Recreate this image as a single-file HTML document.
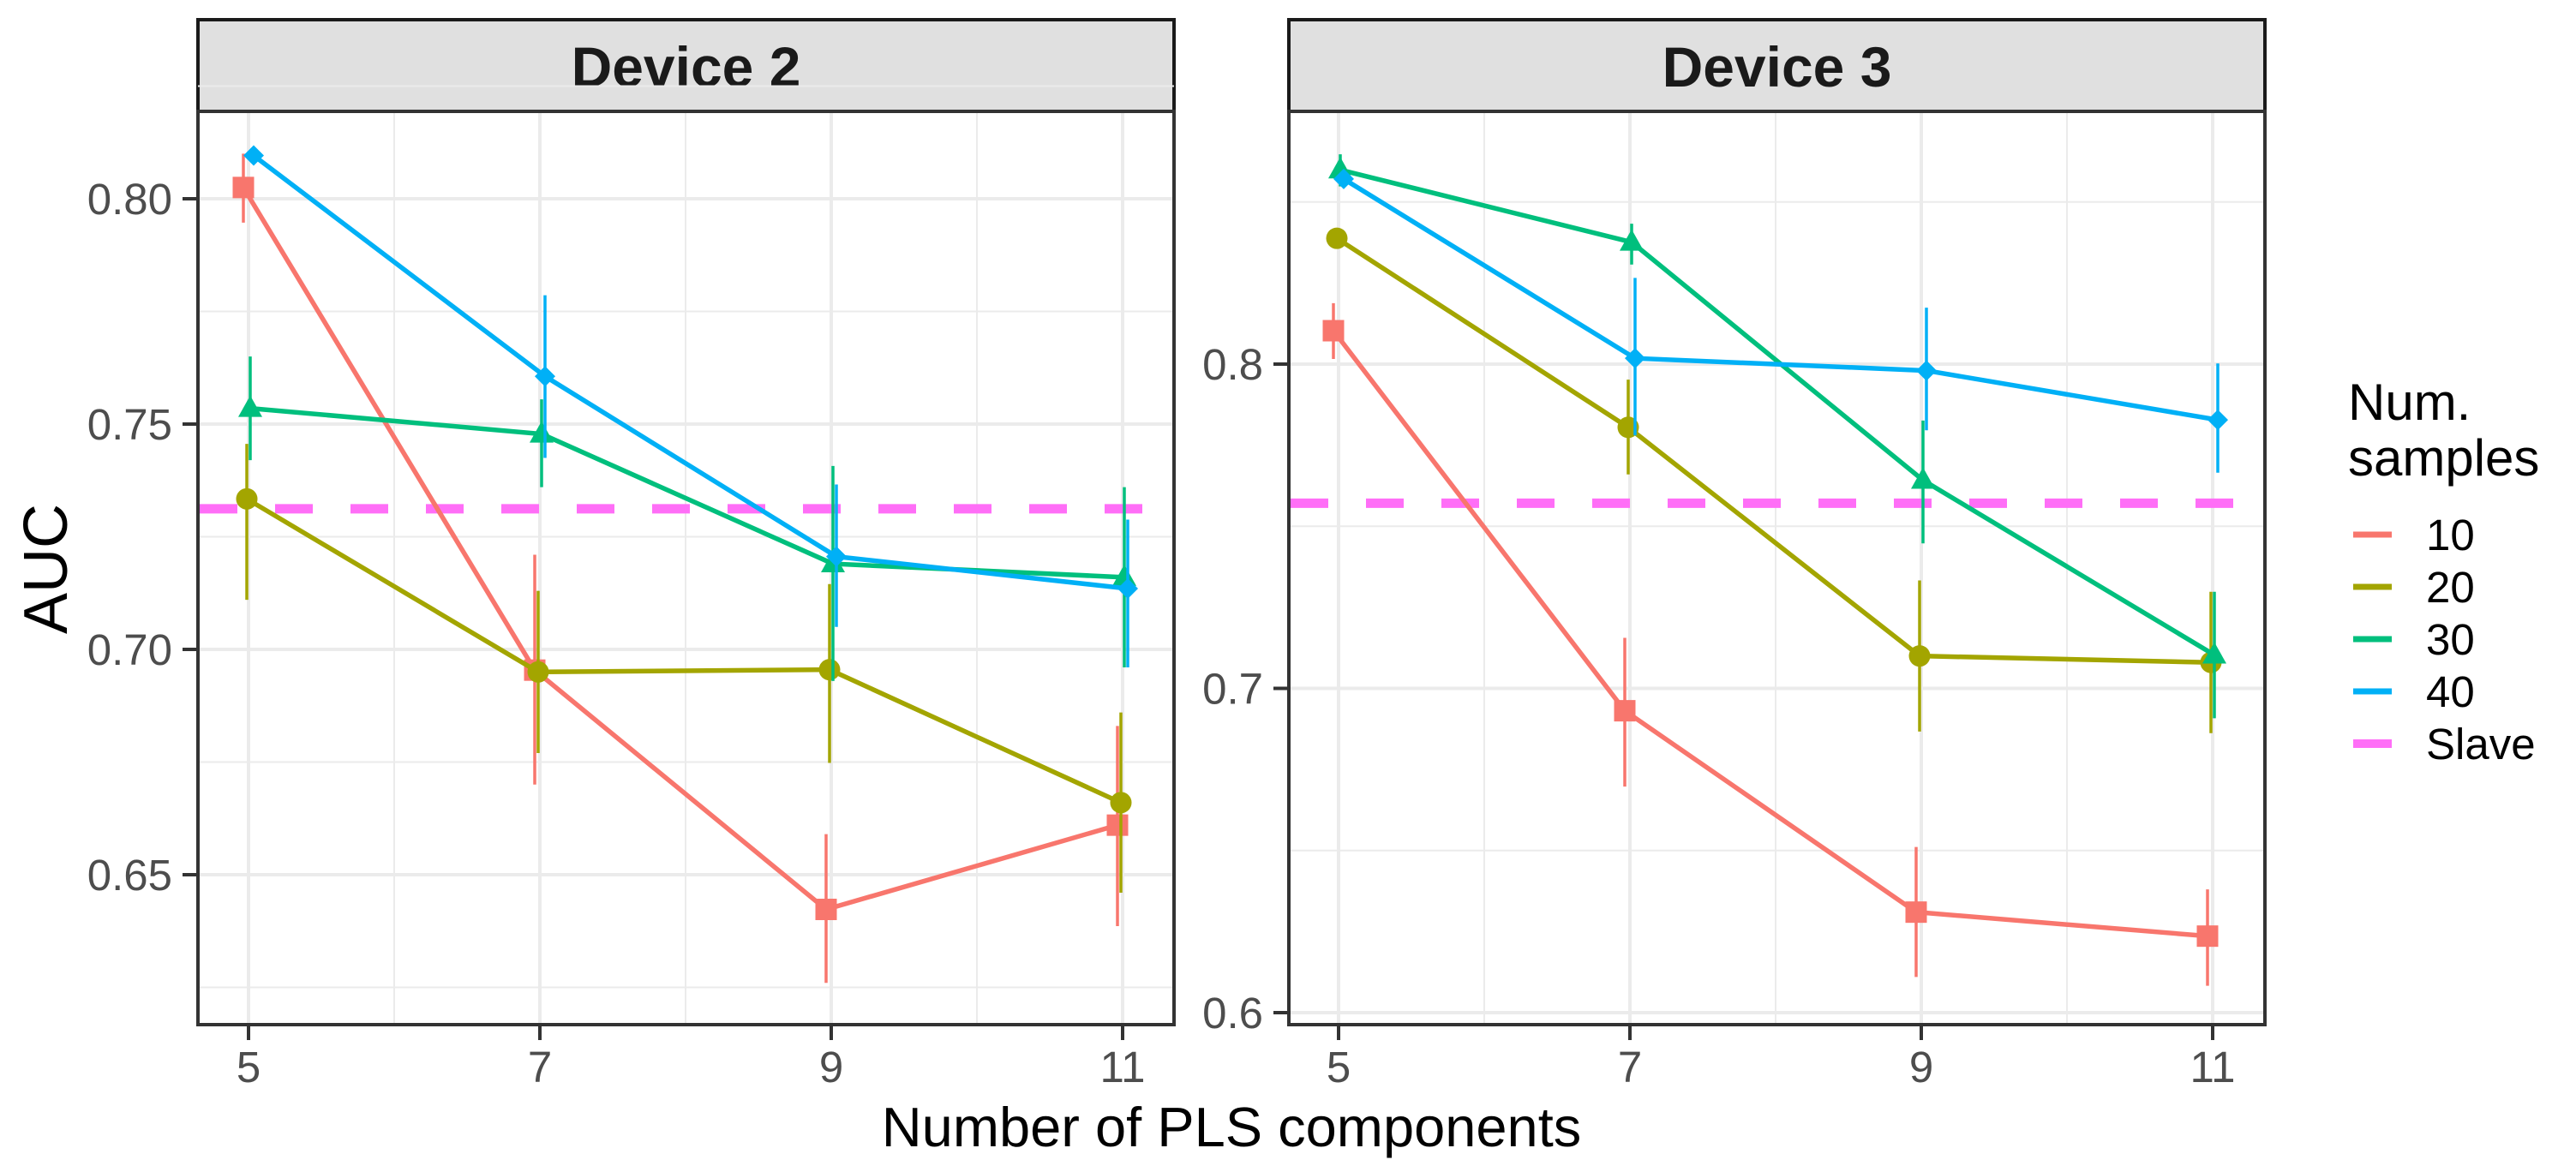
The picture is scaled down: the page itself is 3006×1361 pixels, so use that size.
<!DOCTYPE html>
<html><head><meta charset="utf-8">
<style>
html,body{margin:0;padding:0;background:#fff;}
svg{display:block;font-family:"Liberation Sans",Arial,sans-serif;}
</style></head>
<body>
<svg id="chart" width="3006" height="1361" viewBox="0 0 3006 1361" xmlns="http://www.w3.org/2000/svg">
<rect width="3006" height="1361" fill="#fff"/>
<text x="0" y="0" transform="translate(78,664) rotate(-90)" text-anchor="middle" font-size="72" fill="#000">AUC</text>
<text x="1437" y="1338" text-anchor="middle" font-size="65" fill="#000">Number of PLS components</text>
<g id="legend">
<text x="2740" y="490" font-size="60" fill="#000">Num.</text>
<text x="2740" y="555" font-size="60" fill="#000">samples</text>
</g>
</svg>
<script>
const categories = [5, 7, 9, 11];
const seriesNames = ['10', '20', '30', '40'];
// Device 2
const d2_10 = [0.8025, 0.6954, 0.6423, 0.661];
const d2_10_lo = [0.7947, 0.670, 0.626, 0.6386];
const d2_10_hi = [0.810, 0.721, 0.659, 0.683];
const d2_20 = [0.7334, 0.695, 0.6955, 0.666];
const d2_20_lo = [0.711, 0.677, 0.6748, 0.646];
const d2_20_hi = [0.7456, 0.713, 0.7145, 0.686];
const d2_30 = [0.7535, 0.7478, 0.719, 0.716];
const d2_30_lo = [0.742, 0.736, 0.693, 0.696];
const d2_30_hi = [0.765, 0.7555, 0.7407, 0.736];
const d2_40 = [0.8096, 0.7606, 0.7206, 0.7135];
const d2_40_lo = [0.8088, 0.7425, 0.705, 0.696];
const d2_40_hi = [0.8104, 0.7786, 0.7366, 0.7288];
const d2_slave = 0.7312;
const d2_ticks = [0.65, 0.70, 0.75, 0.80];
const d2_tickLabels = ['0.65', '0.70', '0.75', '0.80'];
const d2_minor = [0.625, 0.675, 0.725, 0.775, 0.825];
// Device 3
const d3_10 = [0.8103, 0.6931, 0.631, 0.6236];
const d3_10_lo = [0.8016, 0.6697, 0.611, 0.6083];
const d3_10_hi = [0.8188, 0.7156, 0.6511, 0.638];
const d3_20 = [0.8388, 0.7805, 0.710, 0.708];
const d3_20_lo = [0.8380, 0.766, 0.6867, 0.6862];
const d3_20_hi = [0.8396, 0.7952, 0.7333, 0.7298];
const d3_30 = [0.8599, 0.8376, 0.7642, 0.7103];
const d3_30_lo = [0.8548, 0.8307, 0.7447, 0.6908];
const d3_30_hi = [0.8647, 0.8433, 0.7826, 0.7298];
const d3_40 = [0.8571, 0.8018, 0.798, 0.7828];
const d3_40_lo = [0.8563, 0.778, 0.7796, 0.7665];
const d3_40_hi = [0.8579, 0.8266, 0.8174, 0.8002];
const d3_slave = 0.7571;
const d3_ticks = [0.6, 0.7, 0.8];
const d3_tickLabels = ['0.6', '0.7', '0.8'];
const d3_minor = [0.65, 0.75, 0.85];

const colors = ['#F8766D', '#A3A500', '#00BF7D', '#00B0F6'];
const slaveColor = '#FF6EF7';
const NS = 'http://www.w3.org/2000/svg';
const svg = document.getElementById('chart');
function mk(tag, attrs, parent) {
  const e = document.createElementNS(NS, tag);
  for (const k in attrs) e.setAttribute(k, attrs[k]);
  (parent || svg).appendChild(e);
  return e;
}
const dodge = [-6, -2, 2, 6];

function panel(cfg) {
  const g = mk('g', {});
  
  
  const L = cfg.left, R = cfg.left + 1139, T = 130, B = 1196;
  const xs = v => cfg.x5 + (v - 5) * 170;
  const ys = v => cfg.y0 + (cfg.v0 - v) * cfg.k;
  const strip = mk('rect', {x: L, y: 23, width: R - L, height: 107, fill: '#e0e0e0', stroke: '#1a1a1a', 'stroke-width': 4}, g);
  
  
  const st = mk('text', {x: (L + R) / 2, y: 101, 'text-anchor': 'middle', 'font-size': 66, 'font-weight': 'bold', fill: '#1a1a1a'}, g);
  st.textContent = cfg.title;
  
  
  cfg.minor.forEach(v => { mk('line', {x1: L, x2: R, y1: ys(v), y2: ys(v), stroke: '#ebebeb', 'stroke-width': 2}, g); });
  [6, 8, 10].forEach(v => { mk('line', {x1: xs(v), x2: xs(v), y1: T, y2: B, stroke: '#ebebeb', 'stroke-width': 2}, g); });
  cfg.ticks.forEach((v, i) => {
    mk('line', {x1: L, x2: R, y1: ys(v), y2: ys(v), stroke: '#ebebeb', 'stroke-width': 4}, g);
    mk('line', {x1: L - 18, x2: L, y1: ys(v), y2: ys(v), stroke: '#333', 'stroke-width': 4}, g);
    const t = mk('text', {x: L - 30, y: ys(v) + 18, 'text-anchor': 'end', 'font-size': 51, fill: '#4d4d4d'}, g);
    t.textContent = cfg.tickLabels[i];
    
    
  });
  categories.forEach(c => {
    mk('line', {x1: xs(c), x2: xs(c), y1: T, y2: B, stroke: '#ebebeb', 'stroke-width': 4}, g);
    mk('line', {x1: xs(c), x2: xs(c), y1: B, y2: B + 18, stroke: '#333', 'stroke-width': 4}, g);
    const t = mk('text', {x: xs(c), y: 1263, 'text-anchor': 'middle', 'font-size': 51, fill: '#4d4d4d'}, g);
    t.textContent = String(c);
    
    
  });
  const sl = mk('line', {x1: L + 2, x2: R - 2, y1: ys(cfg.slave), y2: ys(cfg.slave), stroke: slaveColor, 'stroke-width': 11, 'stroke-dasharray': '44 44'}, g);
  
  
  cfg.series.forEach((s, si) => {
    const col = colors[si];
    const sg = mk('g', {}, g);
    
    
    s.v.forEach((v, i) => {
      const x = xs(categories[i]) + dodge[si];
      mk('line', {x1: x, x2: x, y1: ys(s.lo[i]), y2: ys(s.hi[i]), stroke: col, 'stroke-width': 3.5}, sg);
    });
    const pts = s.v.map((v, i) => (xs(categories[i]) + dodge[si]) + ',' + ys(v)).join(' ');
    const pl = mk('polyline', {points: pts, fill: 'none', stroke: col, 'stroke-width': 5.5, 'stroke-linejoin': 'round'}, sg);
    
    
    s.v.forEach((v, i) => {
      const x = xs(categories[i]) + dodge[si], y = ys(v);
      let p;
      if (si === 0) p = mk('rect', {x: x - 12.5, y: y - 12.5, width: 25, height: 25, fill: col}, sg);
      else if (si === 1) p = mk('circle', {cx: x, cy: y, r: 12.5, fill: col}, sg);
      else if (si === 2) p = mk('polygon', {points: `${x},${y - 15} ${x + 14},${y + 10} ${x - 14},${y + 10}`, fill: col}, sg);
      else p = mk('polygon', {points: `${x},${y - 12} ${x + 12},${y} ${x},${y + 12} ${x - 12},${y}`, fill: col}, sg);
      
      
    });
  });
  const border = mk('rect', {x: L, y: T, width: R - L, height: B - T, fill: 'none', stroke: '#333', 'stroke-width': 4}, g);
  
  
}

panel({name: 'panel-device-2', title: 'Device 2', left: 231, x5: 290, y0: 232, v0: 0.80, k: 5260,
  ticks: d2_ticks, tickLabels: d2_tickLabels, minor: d2_minor, slave: d2_slave,
  series: [{v: d2_10, lo: d2_10_lo, hi: d2_10_hi}, {v: d2_20, lo: d2_20_lo, hi: d2_20_hi},
           {v: d2_30, lo: d2_30_lo, hi: d2_30_hi}, {v: d2_40, lo: d2_40_lo, hi: d2_40_hi}]});
panel({name: 'panel-device-3', title: 'Device 3', left: 1504, x5: 1562, y0: 425, v0: 0.80, k: 3785,
  ticks: d3_ticks, tickLabels: d3_tickLabels, minor: d3_minor, slave: d3_slave,
  series: [{v: d3_10, lo: d3_10_lo, hi: d3_10_hi}, {v: d3_20, lo: d3_20_lo, hi: d3_20_hi},
           {v: d3_30, lo: d3_30_lo, hi: d3_30_hi}, {v: d3_40, lo: d3_40_lo, hi: d3_40_hi}]});

const legend = document.getElementById('legend');
const legendLabels = ['10', '20', '30', '40', 'Slave'];
const legendColors = colors.concat([slaveColor]);
legendLabels.forEach((lab, i) => {
  const y = 624 + i * 61;
  const eg = mk('g', {}, legend);
  
  
  mk('line', {x1: 2746, x2: 2791, y1: y, y2: y, stroke: legendColors[i], 'stroke-width': i === 4 ? 10 : 7}, eg);
  const t = mk('text', {x: 2831, y: y + 18, 'font-size': 51, fill: '#000'}, eg);
  t.textContent = lab;
});
</script>
</body></html>
